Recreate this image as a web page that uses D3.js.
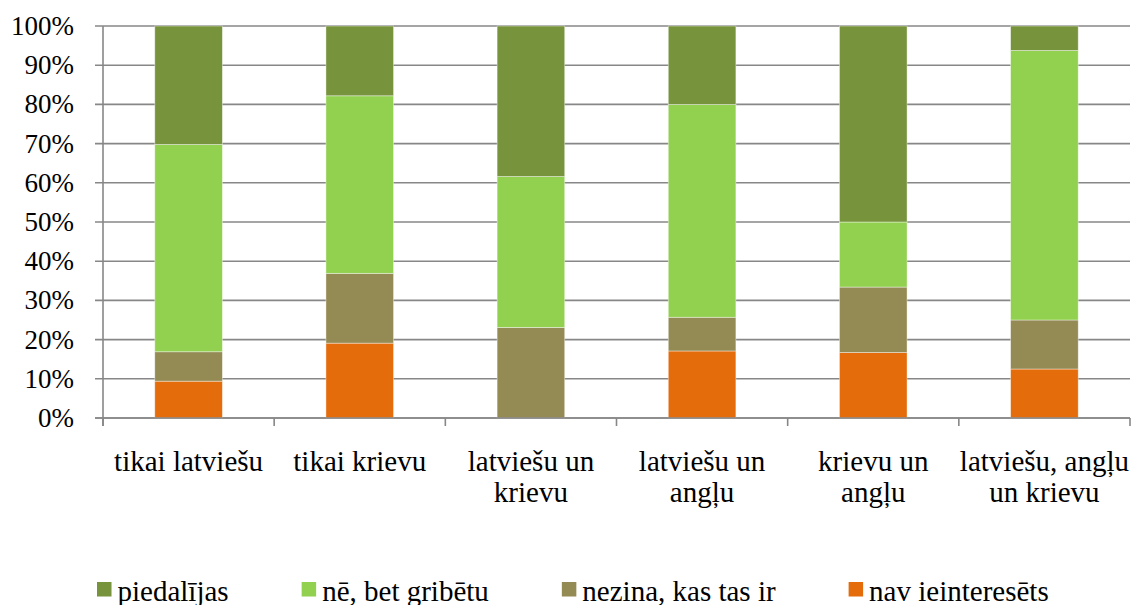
<!DOCTYPE html>
<html>
<head>
<meta charset="utf-8">
<script src="https://cdn.jsdelivr.net/npm/d3@7"></script>
</head>
<body style="margin:0">
<svg id="chart" width="1133" height="605"></svg>
<script>
// ---- data ----
const categories = [
  ["tikai latviešu"],
  ["tikai krievu"],
  ["latviešu un", "krievu"],
  ["latviešu un", "angļu"],
  ["krievu un", "angļu"],
  ["latviešu, angļu", "un krievu"]
];
const seriesNames = ["nav ieinteresēts", "nezina, kas tas ir", "nē, bet gribētu", "piedalījas"];
const navIeinteresets = [9.4, 19.1, 0.0, 17.1, 16.7, 12.5];
const nezina          = [7.5, 17.8, 23.1, 8.6, 16.7, 12.5];
const neBetGribetu    = [52.9, 45.3, 38.5, 54.3, 16.6, 68.75];
const piedalijas      = [30.2, 17.8, 38.4, 20.0, 50.0, 6.25];
const yTicks = [0, 10, 20, 30, 40, 50, 60, 70, 80, 90, 100];
const legendOrder = ["piedalījas", "nē, bet gribētu", "nezina, kas tas ir", "nav ieinteresēts"];

const colors = {
  "piedalījas": "#77933C",
  "nē, bet gribētu": "#92D050",
  "nezina, kas tas ir": "#948A54",
  "nav ieinteresēts": "#E46C0A"
};

// ---- layout ----
const FONT = 'Liberation Serif, Tinos, Times New Roman, serif';
const svg = d3.select("#chart");
const pLeft = 103, pRight = 1130, pTop = 26, pBottom = 418;
const gridColor = "#878787";

const rows = categories.map((c, i) => ({
  key: i,
  "nav ieinteresēts": navIeinteresets[i],
  "nezina, kas tas ir": nezina[i],
  "nē, bet gribētu": neBetGribetu[i],
  "piedalījas": piedalijas[i]
}));

const x = d3.scaleBand().domain(d3.range(categories.length)).range([pLeft, pRight]).padding(0);
const y = d3.scaleLinear().domain([0, 100]).range([pBottom, pTop]);
const barW = x.bandwidth() * 0.395;

// gridlines
const gGrid = svg.append("g");
gGrid.selectAll("line").data(yTicks).join("line")
  .attr("x1", pLeft - 8).attr("x2", pRight)
  .attr("y1", d => y(d)).attr("y2", d => y(d))
  .attr("stroke", gridColor).attr("stroke-width", 1.6);

// y tick labels
svg.append("g").selectAll("text").data(yTicks).join("text")
  .attr("x", pLeft - 29).attr("y", d => y(d)).attr("dy", "0.33em")
  .attr("text-anchor", "end")
  .style("font-family", FONT).style("font-size", "27px").attr("fill", "#000")
  .text(d => d + "%");

// stacked bars
const stacked = d3.stack().keys(seriesNames)(rows);
svg.append("g").selectAll("g").data(stacked).join("g")
  .attr("fill", d => colors[d.key])
  .selectAll("rect").data(d => d).join("rect")
  .attr("x", d => x(d.data.key) + (x.bandwidth() - barW) / 2)
  .attr("width", barW)
  .attr("y", d => y(d[1]))
  .attr("height", d => y(d[0]) - y(d[1]))
  .attr("stroke", "#ffffff")
  .attr("stroke-opacity", 0.5)
  .attr("stroke-width", 0.8);

// x axis ticks
const xAxisScale = d3.scaleLinear().domain([0, categories.length]).range([pLeft, pRight]);
svg.append("g").selectAll("line").data(d3.range(categories.length + 1)).join("line")
  .attr("x1", d => xAxisScale(d)).attr("x2", d => xAxisScale(d))
  .attr("y1", pBottom).attr("y2", pBottom + 8)
  .attr("stroke", gridColor).attr("stroke-width", 1.6);
svg.append("line").attr("x1", pLeft - 8).attr("x2", pRight).attr("y1", pBottom).attr("y2", pBottom)
  .attr("stroke", gridColor).attr("stroke-width", 1.6);

// y axis line
svg.append("line").attr("x1", pLeft).attr("x2", pLeft).attr("y1", y(100)).attr("y2", pBottom + 8)
  .attr("stroke", gridColor).attr("stroke-width", 1.6);

// category labels
const lab = svg.append("g").selectAll("text").data(categories).join("text")
  .attr("text-anchor", "middle")
  .style("font-family", FONT)
  .style("font-size", "29px")
  .attr("fill", "#000")
  .attr("transform", (d, i) => `translate(${x(i) + x.bandwidth() / 2},471)`);
lab.selectAll("tspan").data(d => d).join("tspan")
  .attr("x", 0).attr("y", (d, i) => i * 31).text(d => d);

// legend
const lg = svg.append("g");
let lx = 97;
legendOrder.forEach(name => {
  lg.append("rect").attr("x", lx).attr("y", 582).attr("width", 14.5).attr("height", 14.5).attr("fill", colors[name]);
  const t = lg.append("text").attr("x", lx + 20.5).attr("y", 601)
    .style("font-family", FONT).style("font-size", "29px").attr("fill", "#000").text(name);
  const w = t.node().getComputedTextLength();
  lx = lx + 20.5 + w + 73;
});
</script>
</body>
</html>
